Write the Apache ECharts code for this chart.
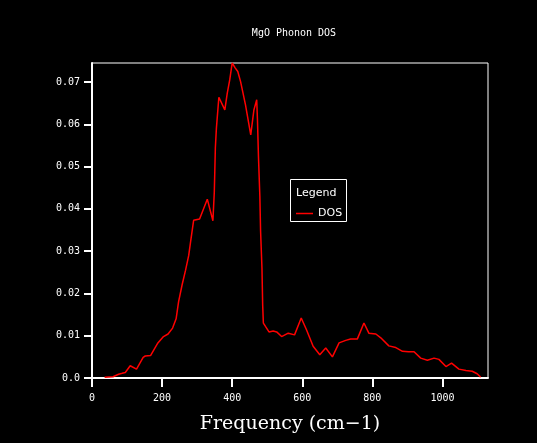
<!DOCTYPE html>
<html>
<head>
<meta charset="utf-8">
<script src="https://cdn.jsdelivr.net/npm/echarts@6/dist/echarts.min.js"></script>
<style>
  html, body { margin: 0; padding: 0; background: #000; }
  #container { width: 537px; height: 443px; }
</style>
</head>
<body>
<div id="container"></div>
<script type="text/javascript">
    // frequency (cm-1) and DOS values
    var freq = [36, 60, 76, 86, 95, 109, 127, 146, 152, 167, 188, 204, 217, 230, 240, 247, 257, 267, 276, 281,
        290, 307, 329, 345, 349, 352, 355, 362, 379, 386, 393, 400, 409, 416, 424, 438, 453, 462, 470, 472,
        475, 479, 481, 485, 487, 489, 495, 505, 517, 527, 541, 560, 578, 597, 612, 631, 650, 667, 686, 705,
        724, 738, 757, 776, 790, 810, 824, 847, 867, 886, 903, 919, 938, 957, 976, 990, 1010, 1026, 1047, 1067,
        1085, 1099, 1109];
    var dos = [0.0002, 0.0003, 0.0009, 0.0011, 0.0013, 0.0029, 0.0021, 0.0049, 0.0052, 0.0053, 0.0083, 0.0098, 0.0104, 0.0118, 0.0140, 0.0180, 0.0220, 0.0255, 0.0290, 0.0320,
        0.0373, 0.0376, 0.0423, 0.0372, 0.0440, 0.0544, 0.0591, 0.0664, 0.0634, 0.0674, 0.0705, 0.0745, 0.0733, 0.0725, 0.0701, 0.0646, 0.0575, 0.0634, 0.0658, 0.0615,
        0.0524, 0.0430, 0.0349, 0.0260, 0.0173, 0.0130, 0.0122, 0.0109, 0.0111, 0.0109, 0.0098, 0.0106, 0.0102, 0.0142, 0.0114, 0.0075, 0.0055, 0.0071, 0.0050, 0.0083,
        0.0089, 0.0092, 0.0092, 0.0130, 0.0106, 0.0104, 0.0095, 0.0076, 0.0072, 0.0063, 0.0062, 0.0062, 0.0047, 0.0042, 0.0047, 0.0044, 0.0027, 0.0035, 0.0021, 0.0018,
        0.0016, 0.0010, 0.0002];
    var xTicks = [0, 200, 400, 600, 800, 1000];
    var yTicks = [0, 0.01, 0.02, 0.03, 0.04, 0.05, 0.06, 0.07];

    var points = freq.map(function (f, i) { return [f, dos[i]]; });

    var myChart = echarts.init(document.getElementById('container'));
    var option = {
        backgroundColor: '#000',
        animation: false,
        title: {
            text: 'MgO Phonon DOS',
            left: 289,
            top: 23,
            textAlign: 'center',
            textStyle: { color: '#fff', fontSize: 10, fontWeight: 'normal', fontFamily: 'DejaVu Sans Mono' }
        },
        grid: {
            left: 92, top: 63, right: 49, bottom: 65,
            show: true, borderColor: '#fff', borderWidth: 1, backgroundColor: 'transparent'
        },
        legend: {
            data: ['DOS'],
            left: 296,
            top: 208,
            padding: 0,
            icon: 'rect',
            itemWidth: 17,
            itemHeight: 1.5,
            itemGap: 4,
            textStyle: { color: '#fff', fontSize: 11, fontFamily: 'DejaVu Sans' }
        },
        graphic: [
            {
                type: 'rect',
                shape: { x: 290.5, y: 179.5, width: 56, height: 42 },
                style: { fill: 'transparent', stroke: '#fff', lineWidth: 1 }
            },
            {
                type: 'text',
                x: 296, y: 193,
                style: { text: 'Legend', fill: '#fff', fontSize: 11, fontFamily: 'DejaVu Sans', verticalAlign: 'middle' }
            }
        ],
        xAxis: {
            type: 'value',
            min: 0,
            max: 1130,
            name: 'Frequency (cm\u22121)',
            nameLocation: 'middle',
            nameGap: 37,
            nameTextStyle: { color: '#fff', fontSize: 19, fontFamily: 'DejaVu Serif' },
            axisLine: { show: true, lineStyle: { color: '#fff', width: 2 } },
            axisTick: { show: true, length: 9, lineStyle: { color: '#fff', width: 2 }, customValues: xTicks },
            axisLabel: {
                color: '#fff', fontSize: 10, fontFamily: 'DejaVu Sans Mono', margin: 15, customValues: xTicks,
                formatter: function (v) { return String(v); }
            },
            splitLine: { show: false }
        },
        yAxis: {
            type: 'value',
            min: 0,
            max: 0.0745,
            axisLine: { show: true, lineStyle: { color: '#fff', width: 2 } },
            axisTick: { show: true, length: 8, lineStyle: { color: '#fff', width: 2 }, customValues: yTicks },
            axisLabel: {
                color: '#fff', fontSize: 10, fontFamily: 'DejaVu Sans Mono', margin: 12, customValues: yTicks,
                formatter: function (v) { return v === 0 ? '0.0' : v.toFixed(2); }
            },
            splitLine: { show: false }
        },
        series: [
            {
                name: 'DOS',
                type: 'line',
                data: points,
                symbol: 'none',
                lineStyle: { color: '#ff0000', width: 1.5 },
                itemStyle: { color: '#ff0000' }
            }
        ]
    };
    myChart.setOption(option);
</script>
</body>
</html>
